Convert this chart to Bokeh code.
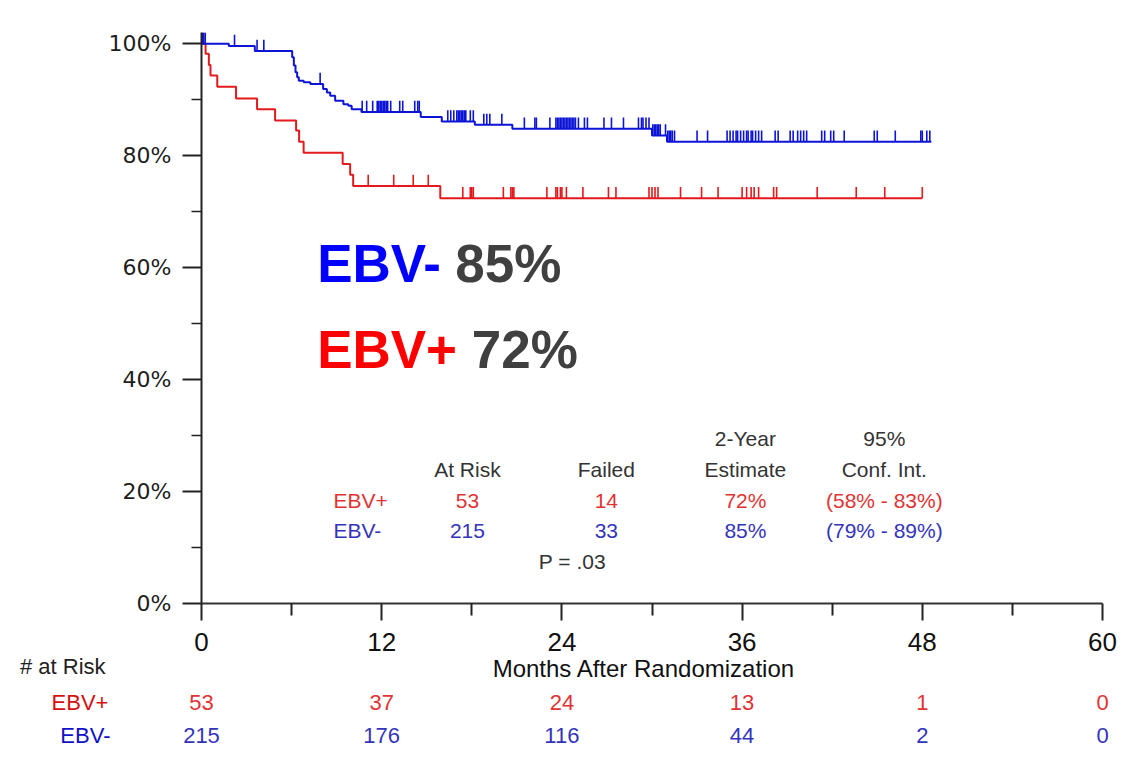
import numpy as np
from bokeh.plotting import figure
from bokeh.layouts import column
from bokeh.models import Label, FixedTicker, PrintfTickFormatter, Range1d, ColumnDataSource
from bokeh.core.properties import value
from bokeh.embed import file_html
from bokeh.resources import INLINE

# ---- Kaplan-Meier estimates (months, percent event-free) ----
# EBV+ : drop times and level after each drop
pos_step_t = [0, 0.27, 0.49, 0.60, 1.05, 2.3, 3.7, 4.9, 6.3, 6.5, 6.8, 9.4, 9.9, 10.1, 15.9]
pos_step_s = [100, 98.2, 96.2, 94.3, 92.3, 90.2, 88.3, 86.3, 84.5, 82.5, 80.5, 78.5, 76.6, 74.6, 72.4]
pos_end = 48.0
pos_cens = [0.12, 11.1, 12.8, 14.1, 15.1, 17.4, 17.9, 18.0, 18.1, 20.1, 20.6, 20.7, 20.8,
            23.0, 23.6, 23.7, 23.9, 24.0, 24.3, 25.4, 27.1, 27.6, 29.8, 30.0, 30.2, 30.4,
            31.9, 33.3, 34.4, 36.0, 36.3, 36.6, 36.8, 37.1, 38.1, 38.3, 41.0, 43.6, 45.5, 48.0]

# EBV- : drop times and level after each drop
neg_step_t = [0, 1.82, 3.55, 6.04, 6.15, 6.26, 6.37, 6.48, 6.81, 7.25, 8.1, 8.35, 8.57, 8.9,
              9.45, 9.78, 10.0, 10.65, 14.6, 16.0, 18.2, 20.7, 30.0, 31.0]
neg_step_s = [100, 99.6, 98.7, 97.6, 96.1, 94.9, 94.0, 93.4, 93.1, 92.8, 91.9, 91.3, 90.7, 89.8,
              89.2, 88.9, 88.3, 87.8, 86.9, 86.1, 85.5, 84.8, 83.6, 82.5]
neg_end = 48.6
neg_cens = [0.05, 0.15, 0.25, 2.2, 3.7, 4.15, 7.9, 10.7, 11.0, 11.4,
            11.7, 11.8, 11.9, 12.0, 12.1, 12.2, 12.3, 12.4, 12.6, 13.2, 13.4, 14.2, 14.4, 14.5,
            16.4, 16.6, 16.8, 17.0, 17.1, 17.2, 17.3, 17.4, 17.5, 17.6, 17.9, 18.1,
            18.8, 19.0, 19.2, 20.0, 21.5, 22.2, 22.3, 23.2,
            23.6, 23.7, 23.8, 23.9, 24.0, 24.1, 24.2, 24.3, 24.4, 24.5, 24.6, 24.7, 24.8, 24.9,
            25.1, 25.5, 25.7, 26.8, 27.3, 28.1, 29.1, 29.3, 29.4, 29.6, 29.8,
            30.05, 30.15, 30.25, 30.35, 30.45, 30.55, 30.9, 31.05, 31.15, 31.25, 31.35, 31.5,
            33.0, 33.7, 35.0, 35.2, 35.4, 35.6, 35.7, 35.9, 36.1, 36.3, 36.4, 36.6, 36.7, 36.9,
            37.1, 37.3, 38.2, 38.4, 39.2, 39.4, 39.7, 39.9, 40.1, 40.3, 41.3, 41.5, 41.9, 42.1,
            42.8, 44.8, 45.0, 46.2, 47.9, 48.0, 48.3, 48.5]

# ---- summary table ----
groups = ["EBV+", "EBV-"]
n_patients = [53, 215]
n_failed = [14, 33]
est_2yr = [72, 85]
ci_low = [58, 79]
ci_high = [83, 89]
p_value = ".03"

# ---- numbers at risk ----
risk_times = [0, 12, 24, 36, 48, 60]
risk_pos = [53, 37, 24, 13, 1, 0]
risk_neg = [215, 176, 116, 44, 2, 0]

RED = "#e3191c"
BLUE = "#0d14d6"
RED_TXT = "#df3434"
BLUE_TXT = "#3434bb"
FONT = "Liberation Sans"

# main survival panel: fixed frame so months and percent map to fixed pixel spacing
p = figure(frame_width=901, frame_height=571, x_range=(0, 60), y_range=(0, 102),
           min_border_left=201, min_border_right=33, min_border_top=32, min_border_bottom=58,
           output_backend="svg", toolbar_location=None, frame_align=False)
p.grid.visible = False
p.outline_line_color = None
p.background_fill_color = "white"
p.border_fill_color = "white"


def level_at(step_t, step_s, t):
    idx = np.searchsorted(np.asarray(step_t), np.asarray(t), side="right") - 1
    return np.asarray(step_s)[idx]


for st, ss, end, cens, col in [(pos_step_t, pos_step_s, pos_end, pos_cens, RED),
                               (neg_step_t, neg_step_s, neg_end, neg_cens, BLUE)]:
    xs = list(st) + [end]
    ys = list(ss) + [ss[-1]]
    p.step(xs, ys, mode="after", line_color=col, line_width=2)
    lv = level_at(st, ss, cens)
    p.segment(x0=cens, y0=lv, x1=cens, y1=lv + 2.0, line_color=col, line_width=1.6)

# ---- axes ----
ya = p.yaxis[0]
ya.ticker = FixedTicker(ticks=[0, 20, 40, 60, 80, 100], minor_ticks=[10, 30, 50, 70, 90])
ya.formatter = PrintfTickFormatter(format="%d%%")
ya.axis_line_width = 2
ya.axis_line_color = "#222222"
ya.major_tick_line_width = 2
ya.major_tick_line_color = "#222222"
ya.major_tick_out = 19
ya.major_tick_in = 0
ya.minor_tick_out = 10
ya.minor_tick_in = 0
ya.minor_tick_line_width = 1.5
ya.minor_tick_line_color = "#222222"
ya.major_label_text_font = "DejaVu Sans"
ya.major_label_text_font_size = "22px"
ya.major_label_text_color = "#1e1e1e"
ya.major_label_standoff = 11

xa = p.xaxis[0]
xa.ticker = FixedTicker(ticks=[0, 12, 24, 36, 48, 60], minor_ticks=[6, 18, 30, 42, 54])
xa.axis_line_width = 2
xa.axis_line_color = "#333333"
xa.major_tick_line_width = 2
xa.major_tick_line_color = "#222222"
xa.major_tick_out = 17
xa.major_tick_in = 0
xa.minor_tick_out = 12
xa.minor_tick_in = 0
xa.minor_tick_line_width = 2
xa.minor_tick_line_color = "#222222"
xa.major_label_text_font = FONT
xa.major_label_text_font_size = "26px"
xa.major_label_text_color = "#111111"
xa.major_label_standoff = 12


def lab(x, y, text, color, size="21px", align="center", style="normal"):
    p.add_layout(Label(x=x, y=y, text=text, text_color=color, text_font_size=size,
                       text_align=align, text_baseline="middle", text_font=FONT,
                       text_font_style=style))


# ---- large headline estimates ----
lab(7.7, 60.8, groups[1], "#0000ff", size="53px", align="left", style="bold")
lab(16.9, 60.8, f"{est_2yr[1]}%", "#404040", size="53px", align="left", style="bold")
lab(7.7, 45.4, groups[0], "#ff0000", size="53px", align="left", style="bold")
lab(18.0, 45.4, f"{est_2yr[0]}%", "#404040", size="53px", align="left", style="bold")

# ---- summary table inside the plot ----
col_x = [17.71, 26.96, 36.22, 45.47]
row_y = [29.46, 23.93, 18.39, 13.04, 7.5]
HDR = "#333333"
lab(col_x[2], row_y[0], "2-Year", HDR)
lab(col_x[3], row_y[0], "95%", HDR)
lab(col_x[0], row_y[1], "At Risk", HDR)
lab(col_x[1], row_y[1], "Failed", HDR)
lab(col_x[2], row_y[1], "Estimate", HDR)
lab(col_x[3], row_y[1], "Conf. Int.", HDR)
for i, c in enumerate([RED_TXT, BLUE_TXT]):
    y = row_y[2 + i]
    lab(8.79, y, groups[i], c, align="left")
    lab(col_x[0], y, str(n_patients[i]), c)
    lab(col_x[1], y, str(n_failed[i]), c)
    lab(col_x[2], y, f"{est_2yr[i]}%", c)
    lab(col_x[3], y, f"({ci_low[i]}% - {ci_high[i]}%)", c)
lab(24.7, row_y[4], f"P = {p_value}", HDR)

# ---- strip under the axis: axis title and numbers at risk ----
# same month scale as the main panel, frame spans the full width; y counts pixels downward.
# The strip is transparent and tucked slightly under the tick labels.
px_per_month = 901 / 60
r = figure(width=1135, height=105,
           x_range=Range1d(-201 / px_per_month, (1135 - 201) / px_per_month),
           y_range=Range1d(105, 0),
           min_border_left=0, min_border_right=0, min_border_top=0, min_border_bottom=0,
           x_axis_location=None, y_axis_location=None,
           output_backend="svg", toolbar_location=None, frame_align=False,
           margin=(-6, 0, 0, 0))
r.grid.visible = False
r.outline_line_color = None
r.background_fill_alpha = 0
r.border_fill_alpha = 0


def rtext(x, y, text, color, size="22px", align="center"):
    r.text(x=x, y=y, text=text, text_color=color, text_font_size=size,
           text_align=align, text_baseline="middle", text_font=value(FONT))


rtext([29.47], [13], ["Months After Randomization"], "#111111", size="24px")
rtext([-6.39], [11], ["# at Risk"], "#222222", align="right")
rtext([-6.2], [47], [groups[0]], "#d41010", align="right")
rtext([-6.06], [80], [groups[1]], "#1010c4", align="right")

src = ColumnDataSource(dict(t=risk_times,
                            a=[str(v) for v in risk_pos],
                            b=[str(v) for v in risk_neg]))
r.text(x="t", y=47, text="a", source=src, text_color=RED_TXT, text_font_size="22px",
       text_align="center", text_baseline="middle", text_font=value(FONT))
r.text(x="t", y=80, text="b", source=src, text_color=BLUE_TXT, text_font_size="22px",
       text_align="center", text_baseline="middle", text_font=value(FONT))

layout = column(p, r, spacing=0)
open("out.html", "w").write(file_html(layout, INLINE))
